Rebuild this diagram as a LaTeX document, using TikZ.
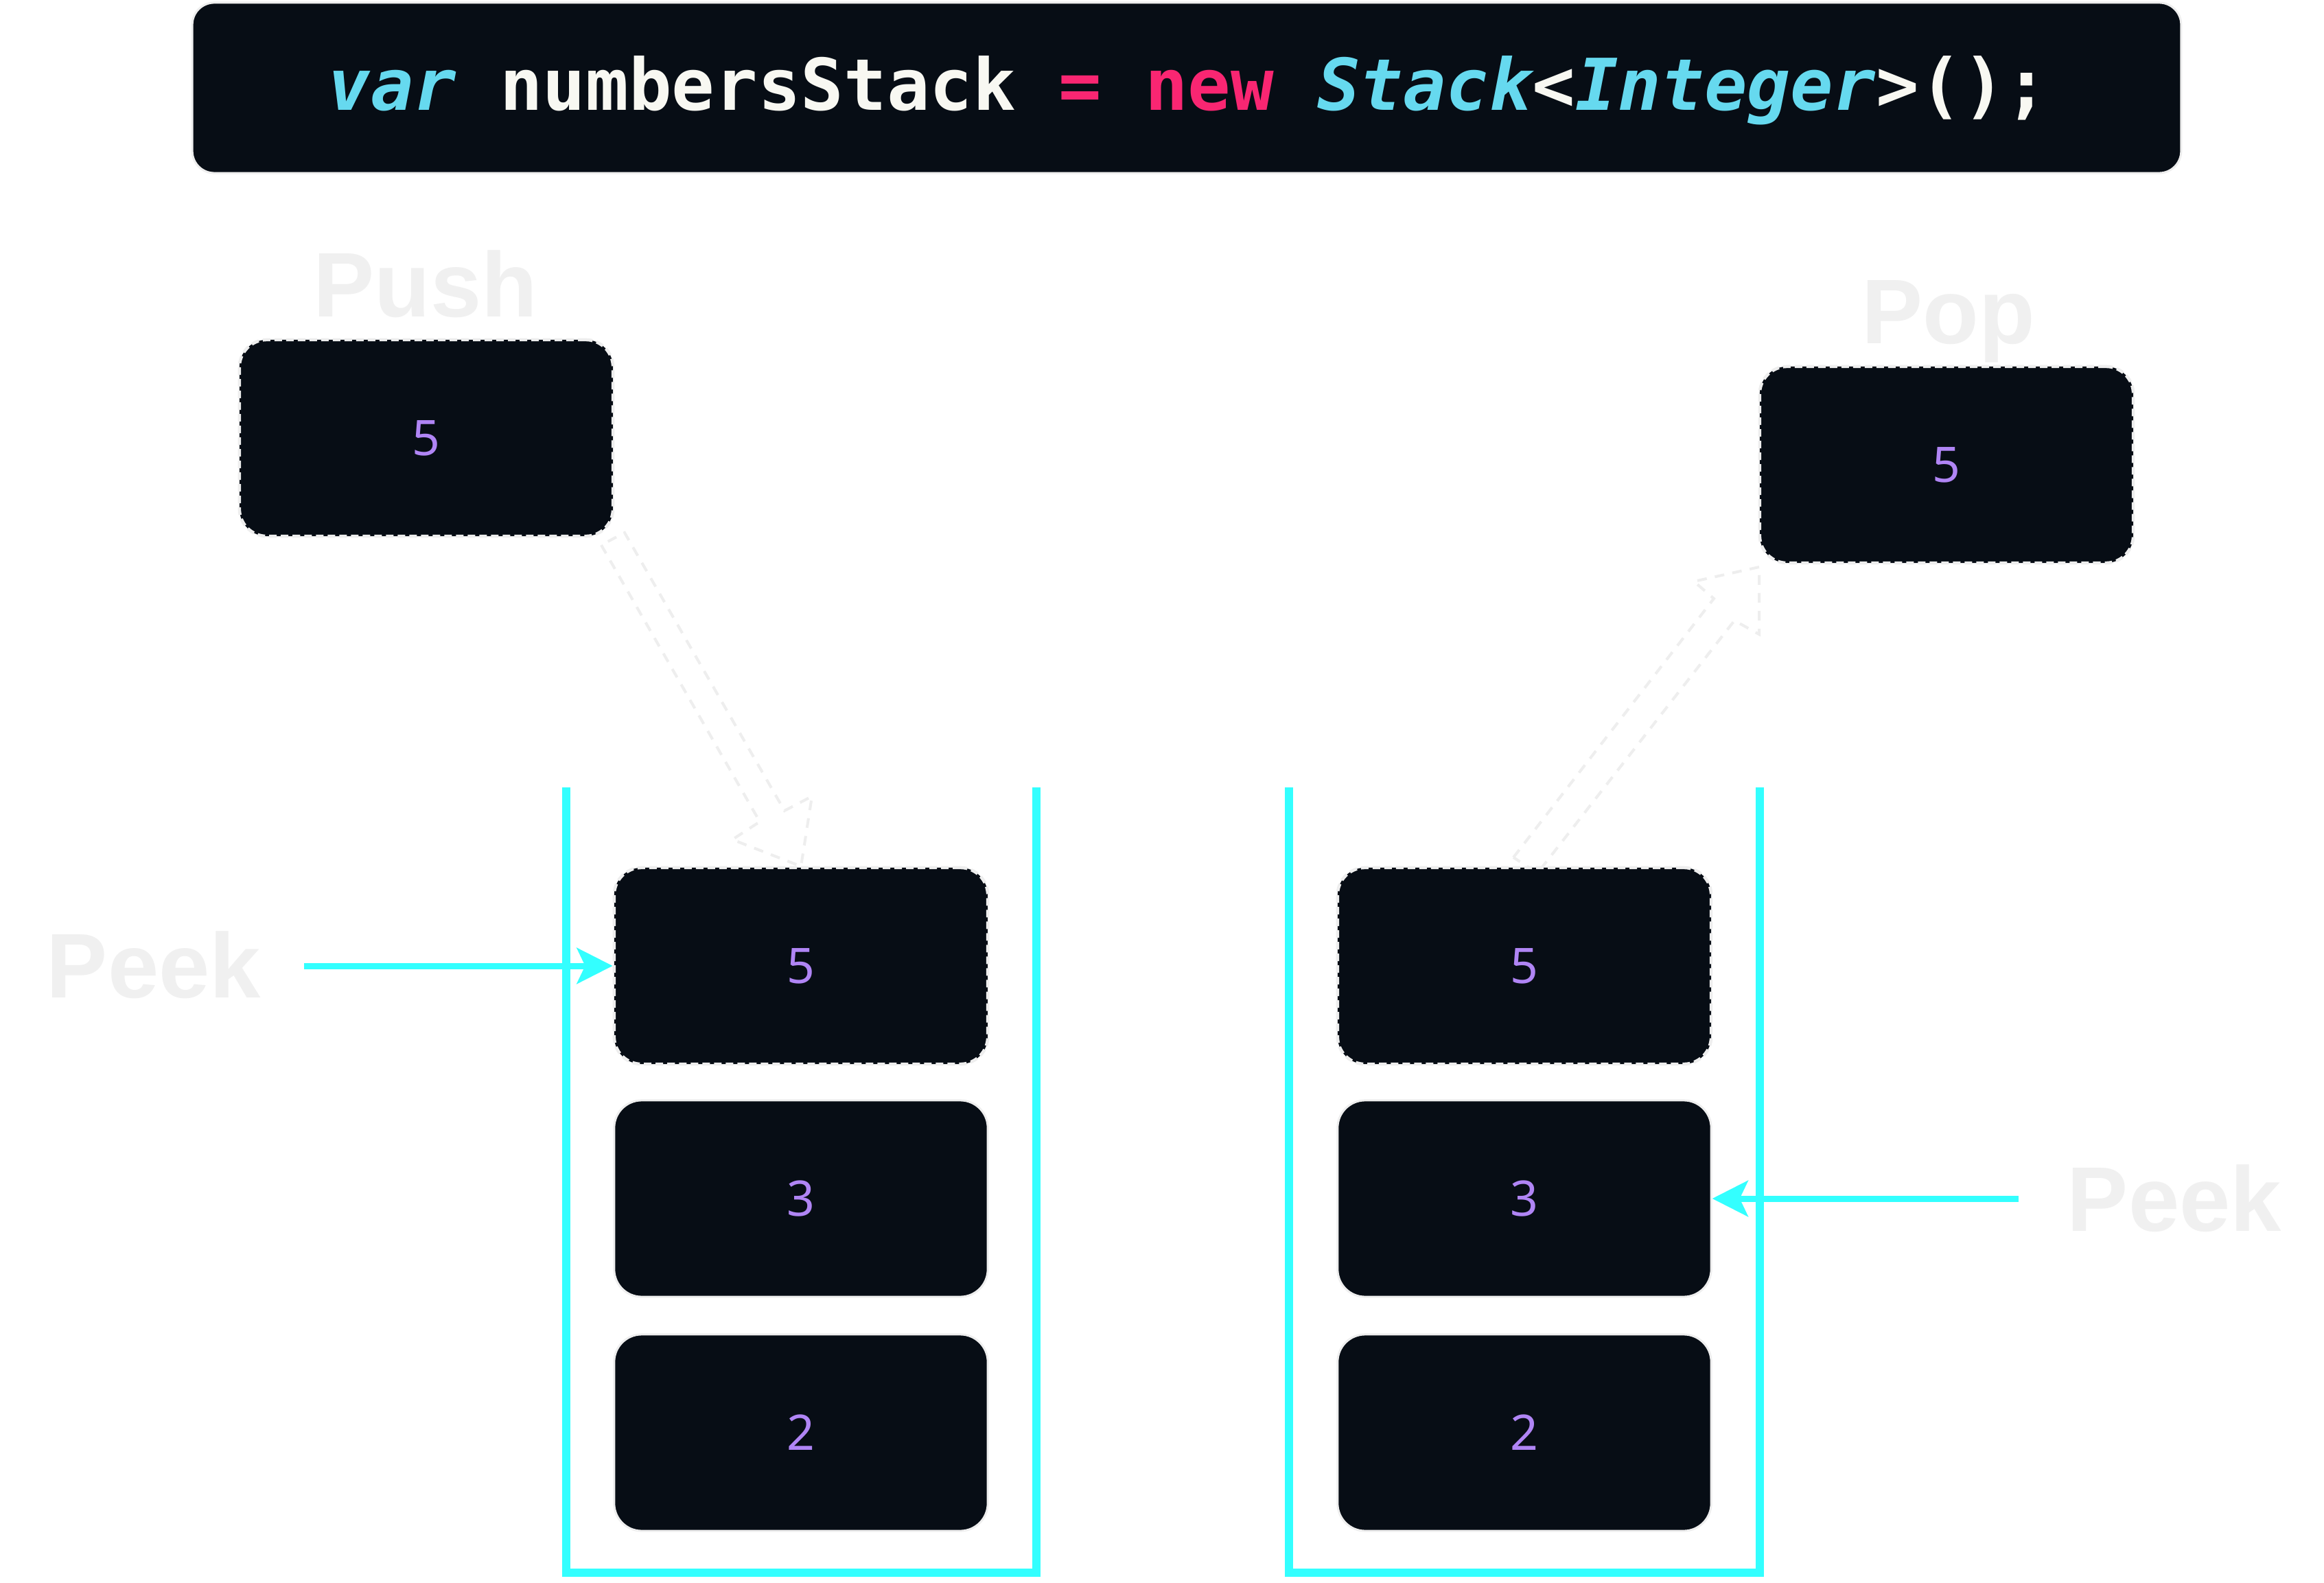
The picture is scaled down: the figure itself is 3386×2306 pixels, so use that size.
\documentclass[tikz,border=0pt]{standalone}
\usepackage{fontspec}
\usetikzlibrary{arrows.meta}
\newfontfamily\codefont{DejaVu Sans Mono}
\newfontfamily\lblfont{Liberation Sans}
\newfontfamily\numfont{Noto Sans}
\definecolor{boxbg}{HTML}{070D15}
\definecolor{cyanline}{HTML}{33FFFF}
\definecolor{lgray}{HTML}{EEEEEE}
\definecolor{numpurple}{HTML}{B085F5}
\definecolor{codecyan}{HTML}{66D9EF}
\definecolor{codepink}{HTML}{F92672}
\definecolor{codewhite}{HTML}{F8F8F2}
\definecolor{labelgray}{HTML}{F0F0F0}
\begin{document}
\begin{tikzpicture}[x=0.01cm,y=-0.01cm,
  stackbox/.style={draw=lgray, line width=0.03cm, fill=boxbg, rounded corners=0.4cm,
    minimum width=5.44cm, minimum height=2.86cm, inner sep=0pt,
    text=numpurple, font=\numfont\fontsize{20.3pt}{24pt}\selectfont},
  dashbox/.style={stackbox, line width=0.045cm, dash pattern=on 0.11cm off 0.06cm},
  oplabel/.style={text=labelgray, font=\lblfont\bfseries\fontsize{38pt}{40pt}\selectfont,
    inner sep=0pt, anchor=base},
  container/.style={draw=cyanline, line width=0.12cm, line join=miter},
  peekarrow/.style={draw=cyanline, line width=0.09cm,
    -{Stealth[length=0.52cm,width=0.52cm,inset=0.12cm]}},
  flowarrow/.style={draw=lgray, line width=0.04cm, dash pattern=on 0.14cm off 0.12cm, line join=miter}
]
\path[use as bounding box, fill=white] (0,0) rectangle (3386,2306);

% code bar
\node[fill=boxbg, draw=lgray, line width=0.03cm, rounded corners=0.32cm,
  minimum width=28.96cm, minimum height=2.48cm, inner sep=0pt] (codebar) at (1729,128) {};
\node[anchor=base, inner sep=0pt, font=\codefont\bfseries\fontsize{29.6pt}{32pt}\selectfont] (code) at (1731,161)
  {\textcolor{codecyan}{\itshape var}~\textcolor{codewhite}{numbersStack}~\textcolor{codepink}{=}~\textcolor{codepink}{new}~\textcolor{codecyan}{\itshape Stack}\textcolor{codewhite}{<}\textcolor{codecyan}{\itshape Integer}\textcolor{codewhite}{>();}};

% labels
\node[oplabel] (pushlbl) at (620,462) {Push};
\node[oplabel] (poplbl) at (2839,500) {Pop};
\node[oplabel] (peekL) at (224,1453) {Peek};
\node[oplabel] (peekR) at (3168,1793) {Peek};

% flow arrows (block outlines)
\draw[flowarrow] (876,794) -- (1107,1197) -- (1067,1223) -- (1167,1262) -- (1183,1160) -- (1143,1181) -- (910,776) -- cycle;
\draw[flowarrow] (2205,1249) -- (2497,872) -- (2468,847) -- (2563,826) -- (2563,924) -- (2527,904) -- (2240,1272) -- cycle;

% containers
\draw[container] (825,1147) -- (825,2291) -- (1510,2291) -- (1510,1147);
\draw[container] (1878,1147) -- (1878,2291) -- (2564,2291) -- (2564,1147);

% boxes
\node[dashbox] (push5) at (621,638) {5};
\node[dashbox] (pop5) at (2836,677) {5};
\node[dashbox] (L5) at (1167,1407) {5};
\node[stackbox] (L3) at (1167,1746) {3};
\node[stackbox] (L2) at (1167,2087) {2};
\node[dashbox] (R5) at (2221,1407) {5};
\node[stackbox] (R3) at (2221,1746) {3};
\node[stackbox] (R2) at (2221,2087) {2};

% peek arrows
\coordinate (peekLstart) at (443,1407);
\coordinate (peekRstart) at (2941,1746);
\draw[peekarrow] (peekLstart) -- (L5.west);
\draw[peekarrow] (peekRstart) -- (R3.east);
\end{tikzpicture}
\end{document}
